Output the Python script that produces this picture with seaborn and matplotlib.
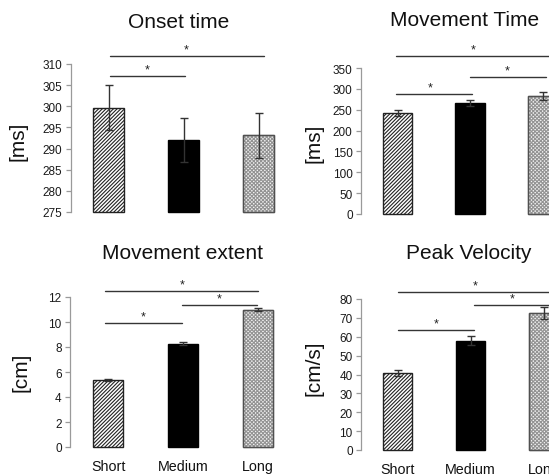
import matplotlib
matplotlib.use("Agg")
import matplotlib.pyplot as plt
from matplotlib.patches import Rectangle
import seaborn as sns
import pandas as pd

# ---- data -------------------------------------------------------------
categories = ["Short", "Medium", "Long"]

onset_mean = [299.7, 292.0, 293.1]
onset_err = [5.4, 5.2, 5.4]

mtime_mean = [242, 266, 283]
mtime_err = [7, 8, 9]

extent_mean = [5.35, 8.25, 11.0]
extent_err = [0.10, 0.12, 0.10]

pvel_mean = [41.0, 58.0, 72.5]
pvel_err = [1.6, 2.2, 3.2]

# significance brackets: (x start, x end, y level, star x)
onset_sig = [(0.02, 1.02, 307.2, 0.52), (0.02, 2.07, 311.9, 1.03)]
mtime_sig = [(-0.02, 1.03, 287.7, 0.45), (1.0, 2.04, 328.4, 1.51),
             (-0.02, 2.3, 378.8, 1.04)]
extent_sig = [(-0.04, 0.98, 9.92, 0.47), (0.98, 1.98, 11.36, 1.48),
              (-0.04, 2.0, 12.48, 0.99)]
pvel_sig = [(0.0, 1.05, 63.6, 0.53), (1.05, 2.3, 76.8, 1.57),
            (0.0, 2.3, 83.7, 1.06)]

# ---- style ------------------------------------------------------------
sns.set_theme(style="white")
plt.rcParams["font.family"] = ["Liberation Sans", "DejaVu Sans"]
plt.rcParams["hatch.linewidth"] = 0.8

W, H = 549, 477
fig = plt.figure(figsize=(W / 100, H / 100), dpi=100)


def px_axes(left, top, right, bottom):
    return fig.add_axes([left / W, 1 - bottom / H,
                         (right - left) / W, (bottom - top) / H])


bar_styles = [
    dict(facecolor="white", edgecolor="#222222", hatch="/" * 9, outline=None),
    dict(facecolor="black", edgecolor="black", hatch=None, outline=None),
    dict(facecolor="#f2f2f2", edgecolor="#939393", hatch="x" * 9,
         outline="#505050"),
]

panels = [
    dict(box=(70.7, 65, 296, 213), xlim=(-0.507, 2.5), ylim=(275, 310),
         yticks=range(275, 311, 5), mean=onset_mean, err=onset_err,
         sig=onset_sig, title="Onset time", tpos=(178.5, 28),
         ylabel="[ms]", ypos=(18, 141), xlabels=False),
    dict(box=(361, 69, 579, 215), xlim=(-0.503, 2.5), ylim=(0, 350),
         yticks=range(0, 351, 50), mean=mtime_mean, err=mtime_err,
         sig=mtime_sig, title="Movement Time", tpos=(464.5, 26),
         ylabel="[ms]", ypos=(314, 143), xlabels=False),
    dict(box=(70, 298, 295.5, 448), xlim=(-0.507, 2.5), ylim=(0, 12),
         yticks=range(0, 13, 2), mean=extent_mean, err=extent_err,
         sig=extent_sig, title="Movement extent", tpos=(182, 259),
         ylabel="[cm]", ypos=(21, 372), xlabels=True),
    dict(box=(361, 300, 580, 451), xlim=(-0.5, 2.5), ylim=(0, 80),
         yticks=range(0, 81, 10), mean=pvel_mean, err=pvel_err,
         sig=pvel_sig, title="Peak Velocity", tpos=(469, 259),
         ylabel="[cm/s]", ypos=(314, 368), xlabels=True),
]

for p in panels:
    ax = px_axes(*p["box"])
    df = pd.DataFrame({"cond": categories, "value": p["mean"]})
    sns.barplot(data=df, x="cond", y="value", hue="cond", ax=ax,
                palette=["white", "black", "#f2f2f2"], saturation=1,
                width=0.41, errorbar=None, legend=False)

    ymin = p["ylim"][0]
    for patch, style, v in zip(list(ax.patches), bar_styles, p["mean"]):
        patch.set_y(ymin)
        patch.set_height(v - ymin)
        patch.set_facecolor(style["facecolor"])
        patch.set_edgecolor(style["edgecolor"])
        patch.set_linewidth(1.0)
        if style["hatch"]:
            patch.set_hatch(style["hatch"])
        patch.set_clip_on(False)
        patch.set_zorder(2)
        if style["outline"]:
            ax.add_patch(Rectangle((patch.get_x(), patch.get_y()),
                                   patch.get_width(), patch.get_height(),
                                   fill=False, edgecolor=style["outline"],
                                   linewidth=1.0, zorder=2.5, clip_on=False))

    ax.errorbar(range(len(categories)), p["mean"], yerr=p["err"],
                fmt="none", ecolor="#333333", elinewidth=1.0,
                capsize=2.6, capthick=1.0, zorder=5)

    for x0, x1, y, sx in p["sig"]:
        ax.plot([x0, x1], [y, y], color="#353535", lw=1.0,
                clip_on=False, zorder=3)
        ax.annotate("*", xy=(sx, y), xytext=(0, 0.5),
                    textcoords="offset points", ha="center", va="bottom",
                    fontsize=9, color="#222222", annotation_clip=False)

    ax.set_xlim(*p["xlim"])
    ax.set_ylim(*p["ylim"])
    ax.set_yticks(list(p["yticks"]))
    ax.set_xlabel("")
    ax.set_ylabel("")
    for side in ("top", "right", "bottom"):
        ax.spines[side].set_visible(False)
    ax.spines["left"].set_color("#9a9a9a")
    ax.spines["left"].set_linewidth(0.9)
    ax.tick_params(axis="y", which="major", left=True, direction="out",
                   length=3.5, width=0.9, color="#9a9a9a",
                   labelsize=8.5, labelcolor="#1a1a1a", pad=2.5)
    if p["xlabels"]:
        ax.tick_params(axis="x", length=0, labelsize=10.3,
                       labelcolor="#111111", pad=8.5)
    else:
        ax.tick_params(axis="x", length=0, labelbottom=False)
    ax.set_facecolor("none")

    fig.text(p["tpos"][0] / W, 1 - p["tpos"][1] / H, p["title"],
             ha="center", va="baseline", fontsize=15, color="#111111")
    fig.text(p["ypos"][0] / W, 1 - p["ypos"][1] / H, p["ylabel"],
             ha="center", va="center", rotation=90, fontsize=15,
             color="#111111")

fig.savefig("out.png", dpi=100, facecolor="white")
